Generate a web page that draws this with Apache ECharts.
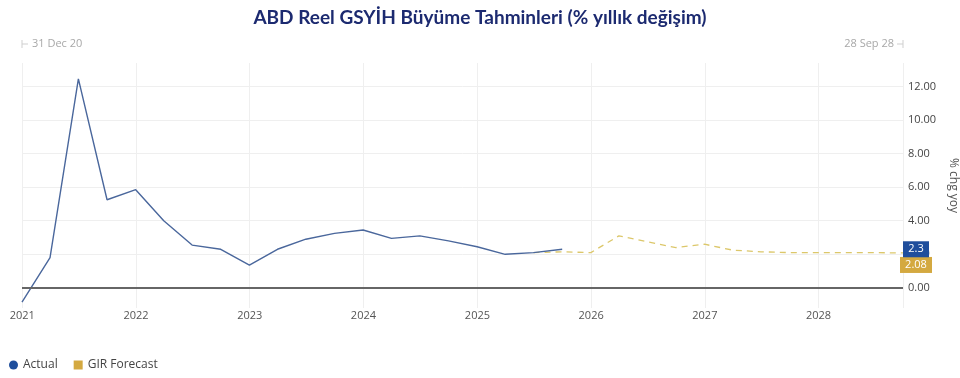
<!DOCTYPE html>
<html>
<head>
<meta charset="utf-8">
<script src="https://cdn.jsdelivr.net/npm/echarts@6/dist/echarts.min.js"></script>
<style>
	html, body { margin: 0; padding: 0; background: #fff; }
	#chart { width: 960px; height: 378px; }
</style>
</head>
<body>
<div id="chart"></div>
<script>
// quarter-end dates and values (% yoy)
var actualDates = ['2020-12-31', '2021-03-31', '2021-06-30', '2021-09-30', '2021-12-31',
	'2022-03-31', '2022-06-30', '2022-09-30', '2022-12-31', '2023-03-31', '2023-06-30',
	'2023-09-30', '2023-12-31', '2024-03-31', '2024-06-30', '2024-09-30', '2024-12-31',
	'2025-03-31', '2025-06-30', '2025-09-30'];
var actualValues = [-0.85, 1.8, 12.45, 5.25, 5.85, 4.0, 2.55, 2.3, 1.35, 2.3, 2.9,
	3.25, 3.45, 2.95, 3.1, 2.8, 2.45, 2.0, 2.1, 2.3];

var forecastDates = ['2025-06-30', '2025-09-30', '2025-12-31', '2026-03-31', '2026-06-30',
	'2026-09-30', '2026-12-31', '2027-03-31', '2027-06-30', '2027-09-30', '2027-12-31',
	'2028-03-31', '2028-06-30', '2028-09-28'];
var forecastValues = [2.1, 2.15, 2.1, 3.1, 2.75, 2.4, 2.6, 2.25, 2.15, 2.1, 2.1, 2.1, 2.1, 2.08];

var yTicks = [0, 2, 4, 6, 8, 10, 12];
var startLabel = '31 Dec 20';
var endLabel = '28 Sep 28';

var navy = '#1f4e9c';
var gold = '#d4a940';

function pairs(dates, vals) {
	var t = [];
	for (var i = 0; i < dates.length; i++) {
		t.push([dates[i], vals[i]]);
	}
	return t;
}

var lastActual = actualValues[actualValues.length - 1];
var lastForecast = forecastValues[forecastValues.length - 1];
var xMax = forecastDates[forecastDates.length - 1];

var myChart = echarts.init(document.getElementById('chart'));
var option = {
	backgroundColor: '#fff',
	animation: false,
	title: {
		text: 'ABD Reel GSYİH Büyüme Tahminleri (% yıllık değişim)',
		left: 'center',
		top: 3,
		textStyle: { fontFamily: 'Lato', fontWeight: 'bold', fontSize: 19, color: '#1c2a70' }
	},
	legend: {
		left: 4,
		bottom: 2,
		itemWidth: 9,
		itemHeight: 9,
		itemGap: 16,
		textStyle: { fontFamily: 'Open Sans', fontSize: 12, color: '#444' },
		data: [
			{ name: 'Actual', icon: 'circle', itemStyle: { color: navy } },
			{ name: 'GIR Forecast', icon: 'rect', itemStyle: { color: gold } }
		]
	},
	graphic: [
		{ type: 'text', left: 32, top: 38, style: { text: startLabel, fill: '#a8a8a8', font: '11px "Open Sans"' } },
		{ type: 'line', shape: { x1: 22, y1: 40, x2: 22, y2: 48 }, style: { stroke: '#cfcfcf', lineWidth: 1 } },
		{ type: 'line', shape: { x1: 22, y1: 44, x2: 28, y2: 44 }, style: { stroke: '#cfcfcf', lineWidth: 1 } },
		{ type: 'text', right: 66, top: 38, style: { text: endLabel, fill: '#a8a8a8', font: '11px "Open Sans"' } },
		{ type: 'line', shape: { x1: 903, y1: 40, x2: 903, y2: 48 }, style: { stroke: '#cfcfcf', lineWidth: 1 } },
		{ type: 'line', shape: { x1: 897, y1: 44, x2: 903, y2: 44 }, style: { stroke: '#cfcfcf', lineWidth: 1 } }
	],
	grid: { left: 22, right: 57, top: 63, bottom: 70, outerBoundsMode: 'none' },
	xAxis: {
		type: 'time',
		min: actualDates[0],
		max: xMax,
		minInterval: 365 * 24 * 3600 * 1000,
		splitNumber: 8,
		axisLine: { show: false },
		axisTick: { show: false },
		axisLabel: {
			formatter: '{yyyy}',
			showMinLabel: false,
			margin: 2,
			fontFamily: 'Open Sans',
			fontSize: 11,
			color: '#555'
		},
		splitLine: { show: true, lineStyle: { color: '#efefef', width: 1 } }
	},
	yAxis: {
		type: 'value',
		position: 'right',
		min: -1.2,
		max: 13.4,
		name: '% chg yoy',
		nameLocation: 'middle',
		nameRotate: -90,
		nameGap: 44,
		nameTextStyle: { fontFamily: 'Open Sans', fontSize: 12, color: '#555' },
		axisLine: { show: false },
		axisTick: { show: false, customValues: yTicks },
		axisLabel: {
			customValues: yTicks,
			margin: 5,
			fontFamily: 'Open Sans',
			fontSize: 11,
			color: '#444',
			formatter: function (v) { return v.toFixed(2); }
		},
		splitLine: { show: true, lineStyle: { color: '#efefef', width: 1 } }
	},
	series: [
		{
			name: 'GIR Forecast',
			type: 'line',
			data: pairs(forecastDates, forecastValues),
			showSymbol: false,
			symbol: 'none',
			lineStyle: { color: '#dcc76a', width: 1.3, type: [6, 5] },
			itemStyle: { color: gold },
			markLine: {
				silent: true,
				symbol: 'none',
				label: { show: false },
				lineStyle: { color: '#666', width: 2, type: 'solid' },
				data: [{ yAxis: 0 }]
			},
			markPoint: {
				silent: true,
				symbol: 'rect',
				symbolSize: [32, 16],
				symbolOffset: [13, 12],
				itemStyle: { color: gold, borderRadius: 2 },
				label: { show: true, color: '#fff', fontFamily: 'Open Sans', fontSize: 11, formatter: '{c}' },
				data: [{ coord: [xMax, lastForecast], value: lastForecast }]
			}
		},
		{
			name: 'Actual',
			type: 'line',
			data: pairs(actualDates, actualValues),
			showSymbol: false,
			symbol: 'none',
			z: 3,
			lineStyle: { color: '#4a679c', width: 1.4 },
			itemStyle: { color: navy },
			markPoint: {
				silent: true,
				symbol: 'rect',
				symbolSize: [26, 16],
				symbolOffset: [13, 0],
				itemStyle: { color: navy },
				label: { show: true, color: '#fff', fontFamily: 'Open Sans', fontSize: 11, formatter: '{c}' },
				data: [{ coord: [xMax, lastActual], value: lastActual }]
			}
		}
	]
};
myChart.setOption(option);
window.addEventListener('resize', function () {
	myChart.resize();
});
</script>
</body>
</html>
